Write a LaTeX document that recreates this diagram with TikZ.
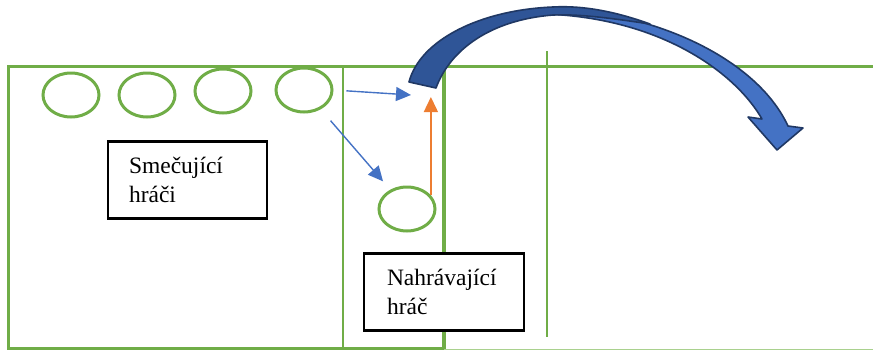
\documentclass[tikz,border=0pt]{standalone}
\usepackage{fontspec}
\setmainfont{Liberation Serif}
\usetikzlibrary{shapes.geometric,arrows.meta}
\definecolor{trava}{HTML}{70AD47}
\definecolor{svetlatrava}{HTML}{A9D18E}
\definecolor{modra}{HTML}{4472C4}
\definecolor{tmavomodra}{HTML}{2F5597}
\definecolor{obrys}{HTML}{203864}
\definecolor{oranz}{HTML}{ED7D31}
\begin{document}
\begin{tikzpicture}[x=1pt,y=-1pt,>={Triangle[length=15pt,width=14pt]},
    hrac/.style={ellipse,draw=trava,line width=3pt,minimum width=56pt,minimum height=44pt,inner sep=0pt},
    popis/.style={draw=black,fill=white,line width=2.2pt,minimum width=159pt,minimum height=77pt,
        text width=117pt,align=left,font=\fontsize{23.5}{29}\selectfont},
    pohyb/.style={->,modra,line width=1.4pt},
    nahravka/.style={->,oranz,line width=1.4pt}]
    \useasboundingbox (0,0) rectangle (873,351);
    \def\tmava{(409,82) .. controls (420,40) and (480,10) .. (553,7)
        .. controls (590,5) and (625,15) .. (650,24)
        .. controls (610,18) and (580,14) .. (553,15)
        .. controls (490,20) and (450,50) .. (436,88) -- cycle}
    \def\svetla{(540,8) .. controls (645,8) and (755,55) .. (788,126) -- (803,128) -- (777,150)
        -- (748,117) -- (762,119) .. controls (735,72) and (660,18) .. (545,14) -- cycle}
    % hriste
    \draw[trava,line width=3pt] (8,66) rectangle (444,348);
    \draw[trava,line width=3pt] (444,66) -- (873,66);
    \draw[trava,line width=3.5pt] (444,66) -- (444,348);
    \draw[trava,line width=1.5pt] (343,66) -- (343,348);
    \draw[trava,line width=1.5pt] (547,51) -- (547,337);
    \draw[svetlatrava,line width=1.2pt] (444,349.5) -- (873,349.5);
    % hraci
    \foreach \n/\x/\y in {1/71/95,2/147/95,3/223/91,4/304/90,5/407/209}
    \node[hrac] (h\n) at (\x,\y) {};
    \node[popis,inner xsep=21pt] (smec) at (187.5,180) {Smečující\\hráči};
    \node[popis,text width=114pt,inner xsep=23pt] (nahr) at (444,292) {Nahrávající\\hráč};
    \coordinate (cil) at (411,95);
    \coordinate (vrchol) at (429,97);
    \draw[pohyb,shorten <=13pt] (h4.east) -- (cil);
    \draw[pohyb,shorten <=15pt,shorten >=11pt] (h4) -- (h5);
    \draw[nahravka] (h5.30) -- (h5.30 |- vrchol);
    % mic
    \draw[fill=modra,draw=obrys,line width=1.6pt,line join=round] \svetla;
    \draw[fill=tmavomodra,draw=obrys,line width=1.6pt,line join=round] \tmava;
\end{tikzpicture}
\end{document}
